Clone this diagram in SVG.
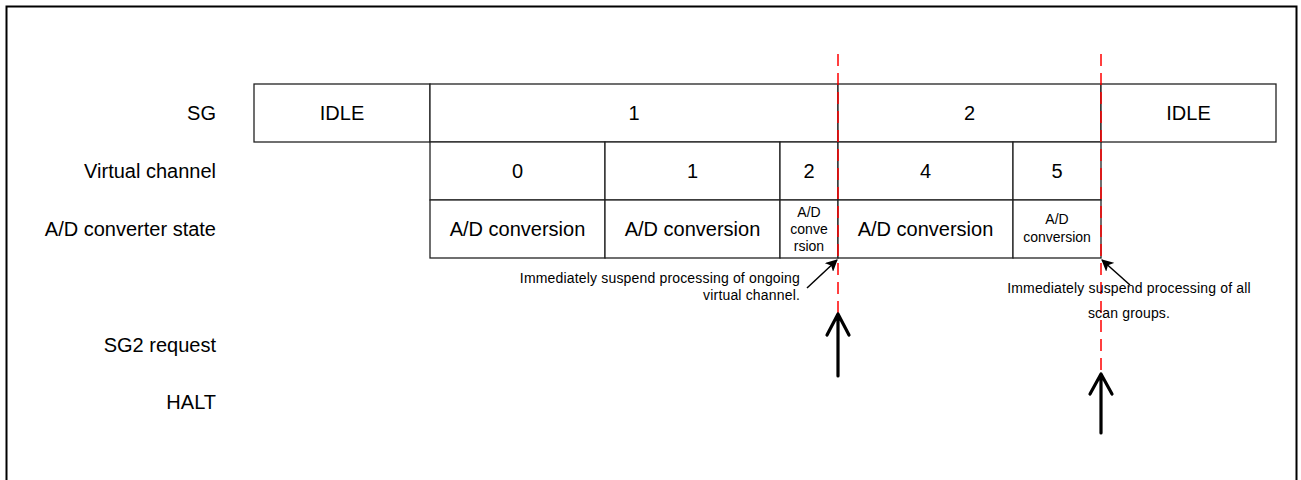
<svg xmlns="http://www.w3.org/2000/svg" width="1301" height="480" viewBox="0 0 1301 480">
<style>
text{font-family:"Liberation Sans",Arial,sans-serif;fill:#000}
.lbl{font-size:20px;text-anchor:end}
.c{font-size:20px;text-anchor:middle}
.s{font-size:14px;text-anchor:middle}
.n{font-size:14px;letter-spacing:0.17px}
.box{fill:#fff;stroke:#222;stroke-width:1.3}
.red{stroke:#ff0000;stroke-width:1.5;stroke-dasharray:12 7;fill:none}
.up{stroke:#000;stroke-width:3.2;fill:none;stroke-linecap:round;stroke-linejoin:round}
.ann{stroke:#000;stroke-width:1.5;fill:none}
</style>
<defs>
<marker id="ah" viewBox="0 0 12 12" refX="11" refY="6" markerWidth="12" markerHeight="12" markerUnits="userSpaceOnUse" orient="auto">
<path d="M0,0 L12,6 L0,12 L3,6 Z" fill="#000"/>
</marker>
</defs>
<rect x="6.5" y="6.5" width="1290" height="520" fill="#fff" stroke="#000" stroke-width="2"/>
<g id="labels">
<text class="lbl" x="216" y="120">SG</text>
<text class="lbl" x="216" y="178">Virtual channel</text>
<text class="lbl" x="216" y="236">A/D converter state</text>
<text class="lbl" x="216" y="352">SG2 request</text>
<text class="lbl" x="216" y="409">HALT</text>
</g>
<g id="sg-idle1"><rect class="box" x="254" y="84" width="176" height="58"/><text class="c" x="342" y="120">IDLE</text></g>
<g id="sg-1"><rect class="box" x="430" y="84" width="408" height="58"/><text class="c" x="634" y="120">1</text></g>
<g id="sg-2"><rect class="box" x="838" y="84" width="263" height="58"/><text class="c" x="969.5" y="120">2</text></g>
<g id="sg-idle2"><rect class="box" x="1101" y="84" width="175" height="58"/><text class="c" x="1188.5" y="120">IDLE</text></g>
<g id="vc-0"><rect class="box" x="430" y="142" width="175" height="58"/><text class="c" x="517.5" y="178">0</text></g>
<g id="vc-1"><rect class="box" x="605" y="142" width="175" height="58"/><text class="c" x="692.5" y="178">1</text></g>
<g id="vc-2"><rect class="box" x="780" y="142" width="58" height="58"/><text class="c" x="809" y="178">2</text></g>
<g id="vc-4"><rect class="box" x="838" y="142" width="175" height="58"/><text class="c" x="925.5" y="178">4</text></g>
<g id="vc-5"><rect class="box" x="1013" y="142" width="88" height="58"/><text class="c" x="1057" y="178">5</text></g>
<g id="ad-0"><rect class="box" x="430" y="200" width="175" height="58"/><text class="c" x="517.5" y="236">A/D conversion</text></g>
<g id="ad-1"><rect class="box" x="605" y="200" width="175" height="58"/><text class="c" x="692.5" y="236">A/D conversion</text></g>
<g id="ad-2"><rect class="box" x="780" y="200" width="58" height="58"/><text class="s" x="809" y="217">A/D</text><text class="s" x="809" y="234">conve</text><text class="s" x="809" y="251">rsion</text></g>
<g id="ad-4"><rect class="box" x="838" y="200" width="175" height="58"/><text class="c" x="925.5" y="236">A/D conversion</text></g>
<g id="ad-5"><rect class="box" x="1013" y="200" width="88" height="58"/><text class="s" x="1057" y="224">A/D</text><text class="s" x="1057" y="242">conversion</text></g>
<g id="connectors">
<line class="red" x1="838" y1="54" x2="838" y2="313"/>
<line class="red" x1="1101" y1="54" x2="1101" y2="373"/>
<path class="up" d="M838,376 V314 M827,335 L838,314 L849,335"/>
<path class="up" d="M1101,433 V374 M1090,394 L1101,374 L1112,394"/>
<line class="ann" x1="807" y1="288" x2="837" y2="260" marker-end="url(#ah)"/>
<line class="ann" x1="1130" y1="285" x2="1102" y2="260" marker-end="url(#ah)"/>
</g>
<g id="notes">
<text class="n" x="800" y="283" text-anchor="end">Immediately suspend processing of ongoing</text>
<text class="n" x="800" y="300" text-anchor="end">virtual channel.</text>
<text class="n" x="1129" y="293" text-anchor="middle">Immediately suspend processing of all</text>
<text class="n" x="1129" y="318" text-anchor="middle">scan groups.</text>
</g>
</svg>
